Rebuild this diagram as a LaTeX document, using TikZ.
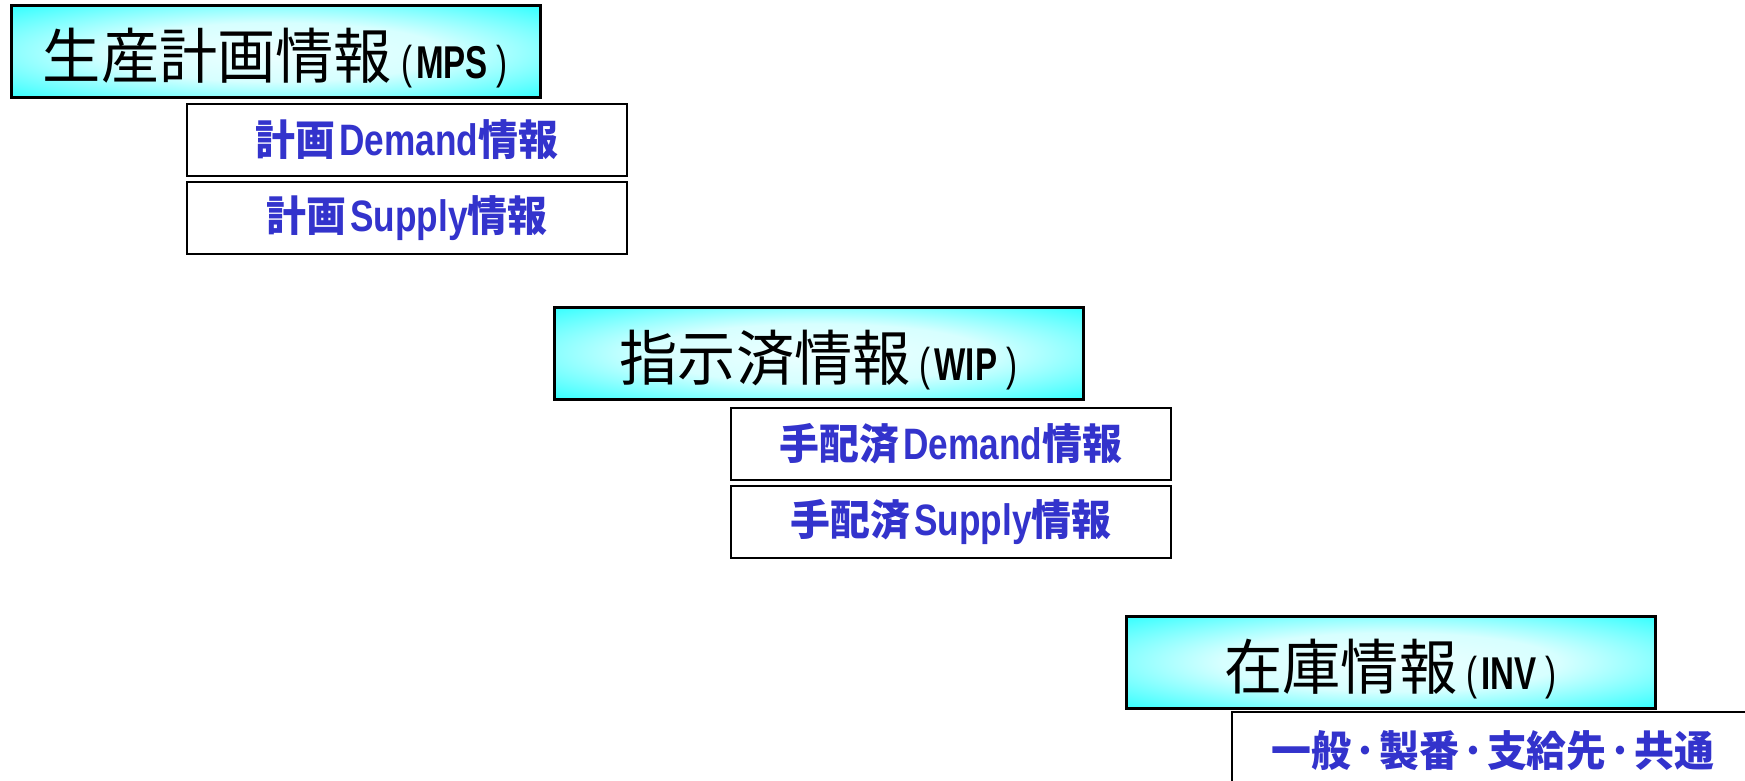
\documentclass[tikz,border=0pt]{standalone}
\usepackage{fontspec}
\newfontfamily\cjkT[FakeStretch=0.97]{Noto Sans CJK JP}
\newfontfamily\cjkB[FakeStretch=0.95]{Noto Sans CJK JP}
\newfontfamily\latT[FakeStretch=0.72]{Liberation Sans}
\newfontfamily\latB[FakeStretch=0.80]{Liberation Sans}
\definecolor{cy}{RGB}{30,255,255}
\definecolor{bluetxt}{RGB}{51,51,204}
\pgfdeclareradialshading{glow}{\pgfpoint{0bp}{0bp}}{color(0bp)=(cy!8); color(16bp)=(cy!18); color(38bp)=(cy); color(50bp)=(cy)}
\newcommand\mytitle[2]{\raisebox{-27pt}[0pt][0pt]{{\cjkT\fontsize{60}{62}\selectfont #1}\hspace{9pt}{\latT\fontsize{46}{48}\selectfont(\hspace{4pt}{\bfseries #2}\hspace{9pt})}}}
\newcommand\lt[1]{\hspace{4pt}{\latB\bfseries\fontsize{44}{46}\selectfont #1}}
\tikzset{
  cyanbox/.style={draw=black, line width=3pt, shade, shading=glow, minimum width=529pt, minimum height=92pt, anchor=north west, inner sep=0pt, outer sep=0pt},
  whitebox/.style={draw=black, line width=2.5pt, fill=white, minimum width=440pt, minimum height=72pt, anchor=north west, inner sep=0pt, outer sep=0pt, text=bluetxt, font=\cjkB\bfseries\fontsize{42}{44}\selectfont},
}
\begin{document}
\begin{tikzpicture}[x=1pt, y=-1pt]
\useasboundingbox (0,0) rectangle (1745,781);
\clip (0,0) rectangle (1745,781);
\node[cyanbox] (mps) at (11,6) {\mytitle{生産計画情報}{MPS}};
\node[whitebox] (pdem) at (187,104) {計画\lt{Demand}情報};
\node[whitebox] (psup) at (187,182) {計画\lt{Supply}情報};
\node[cyanbox] (wip) at (554,307) {\mytitle{指示済情報}{WIP}};
\node[whitebox] (wdem) at (731,408) {手配済\lt{Demand}情報};
\node[whitebox] (wsup) at (731,486) {手配済\lt{Supply}情報};
\node[cyanbox] (inv) at (1126,616) {\mytitle{在庫情報}{INV}};
\node[whitebox, minimum width=522pt, minimum height=78pt] (gen) at (1232,712) {一般\hspace{4pt}･\hspace{4pt}製番\hspace{4pt}･\hspace{4pt}支給先\hspace{4pt}･\hspace{4pt}共通};
\end{tikzpicture}
\end{document}
